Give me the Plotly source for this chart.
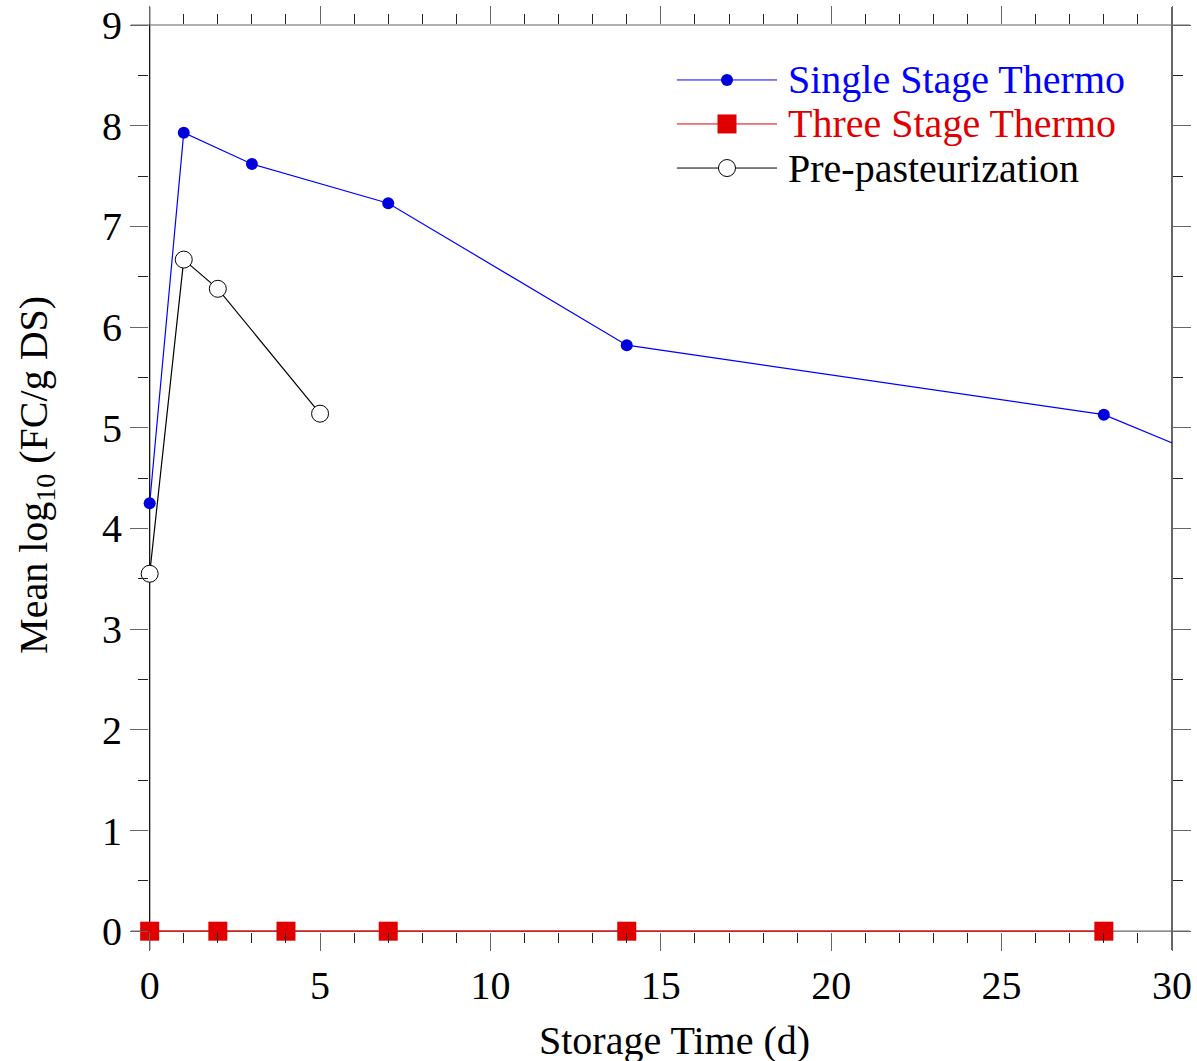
import plotly.graph_objects as go

# Fecal coliform survival during storage, per treatment
single_days = [0, 1, 3, 7, 14, 28, 35]
single_log = [4.25, 7.93, 7.62, 7.23, 5.82, 5.13, 4.15]

three_days = [0, 2, 4, 7, 14, 28]
three_log = [0, 0, 0, 0, 0, 0]

pre_days = [0, 1, 2, 5]
pre_log = [3.55, 6.67, 6.38, 5.14]

x_ticks = [0, 5, 10, 15, 20, 25, 30]
y_ticks = [0, 1, 2, 3, 4, 5, 6, 7, 8, 9]

x_title = "Storage Time (d)"
y_title = "Mean log<sub>10</sub> (FC/g DS)"

FONT = "Liberation Serif, Times New Roman, serif"
BLUE_LINE = "#0000FF"
BLUE_MARK = "#0000DD"
RED = "#E00000"

series = [
    dict(name="Single Stage Thermo", x=single_days, y=single_log, line=BLUE_LINE,
         text=BLUE_LINE, marker=dict(symbol="circle", size=12, color=BLUE_MARK,
                                     line=dict(width=0))),
    dict(name="Three Stage Thermo", x=three_days, y=three_log, line=RED,
         text=RED, marker=dict(symbol="square", size=19, color=RED,
                               line=dict(width=0))),
    dict(name="Pre-pasteurization", x=pre_days, y=pre_log, line="#000000",
         text="#000000", marker=dict(symbol="circle", size=17, color="white",
                                     line=dict(width=1, color="#000000"))),
]

fig = go.Figure()
for s in series:
    fig.add_trace(go.Scatter(
        x=s["x"], y=s["y"], name=s["name"], mode="lines+markers",
        line=dict(color=s["line"], width=1.2), marker=s["marker"],
        cliponaxis=False, showlegend=False,
    ))

# Frame lines, extended past the plot box like the tick marks
shapes = [
    dict(type="line", xref="x", yref="paper", x0=0, x1=0, y0=-0.0198, y1=1.0198,
         line=dict(color="black", width=1.2), layer="below"),
    dict(type="line", xref="paper", yref="paper", x0=1, x1=1, y0=-0.0198, y1=1.0198,
         line=dict(color="black", width=1.2), layer="below"),
    dict(type="line", xref="paper", yref="y", x0=-0.0176, x1=1.0176, y0=0, y1=0,
         line=dict(color="#666666", width=1.2), layer="below"),
    dict(type="line", xref="paper", yref="paper", x0=-0.0176, x1=1.0176, y0=1, y1=1,
         line=dict(color="#666666", width=1.2), layer="below"),
]

annotations = [
    dict(xref="paper", yref="paper", x=0.514, y=-0.1195, xanchor="center",
         yanchor="middle", showarrow=False, text=x_title,
         font=dict(family=FONT, size=40, color="black")),
    dict(xref="paper", yref="paper", x=-0.1105, y=0.5039, xanchor="center",
         yanchor="middle", showarrow=False, text=y_title, textangle=-90,
         font=dict(family=FONT, size=40, color="black")),
]

# Legend: long line sample with the marker in the middle, coloured label
leg_x0, leg_x1, leg_xm = 0.516, 0.6139, 0.565
leg_rows = [0.9394, 0.8909, 0.8423]
for s, yy in zip(series, leg_rows):
    shapes.append(dict(type="line", xref="paper", yref="paper", x0=leg_x0, x1=leg_x1,
                       y0=yy, y1=yy, line=dict(color=s["line"], width=1), layer="above"))
    m = s["marker"]
    half = m["size"] / 2
    shp_type = "rect" if m["symbol"] == "square" else "circle"
    lw = m["line"].get("width", 0)
    shapes.append(dict(type=shp_type, xref="paper", yref="paper",
                       xsizemode="pixel", ysizemode="pixel",
                       xanchor=leg_xm, yanchor=yy,
                       x0=-half, x1=half, y0=-half, y1=half,
                       fillcolor=m["color"],
                       line=dict(color=m["line"].get("color", m["color"]), width=lw),
                       layer="above"))
    annotations.append(dict(xref="paper", yref="paper", x=0.6228, y=yy,
                            xanchor="left", yanchor="middle", showarrow=False,
                            text=s["name"], font=dict(family=FONT, size=40, color=s["text"])))

fig.update_layout(
    width=1197, height=1061,
    margin=dict(l=149, r=25, t=25, b=129),
    paper_bgcolor="white", plot_bgcolor="rgba(0,0,0,0)",
    font=dict(family=FONT, size=40, color="black"),
    shapes=shapes, annotations=annotations,
    showlegend=False,
)

fig.update_xaxes(
    range=[-0.02, 30], tickvals=x_ticks, ticktext=[str(v) for v in x_ticks],
    automargin=False,
    showgrid=False, zeroline=False, showline=False, mirror="ticks",
    ticks="outside", ticklen=18, tickwidth=1.2, tickcolor="#666666",
    tickfont=dict(family=FONT, size=40, color="black"),
    minor=dict(dtick=1, ticks="outside", ticklen=10, tickwidth=1, tickcolor="#222222",
               showgrid=False),
)
fig.update_yaxes(
    range=[-0.008, 9], tickvals=y_ticks, ticktext=[str(v) for v in y_ticks],
    automargin=False,
    showgrid=False, zeroline=False, showline=False, mirror="ticks",
    ticks="outside", ticklen=18, tickwidth=1.2, tickcolor="#666666",
    tickfont=dict(family=FONT, size=40, color="black"),
    minor=dict(dtick=0.5, ticks="outside", ticklen=10, tickwidth=1, tickcolor="#222222",
               showgrid=False),
)

fig.write_html("out.html")
